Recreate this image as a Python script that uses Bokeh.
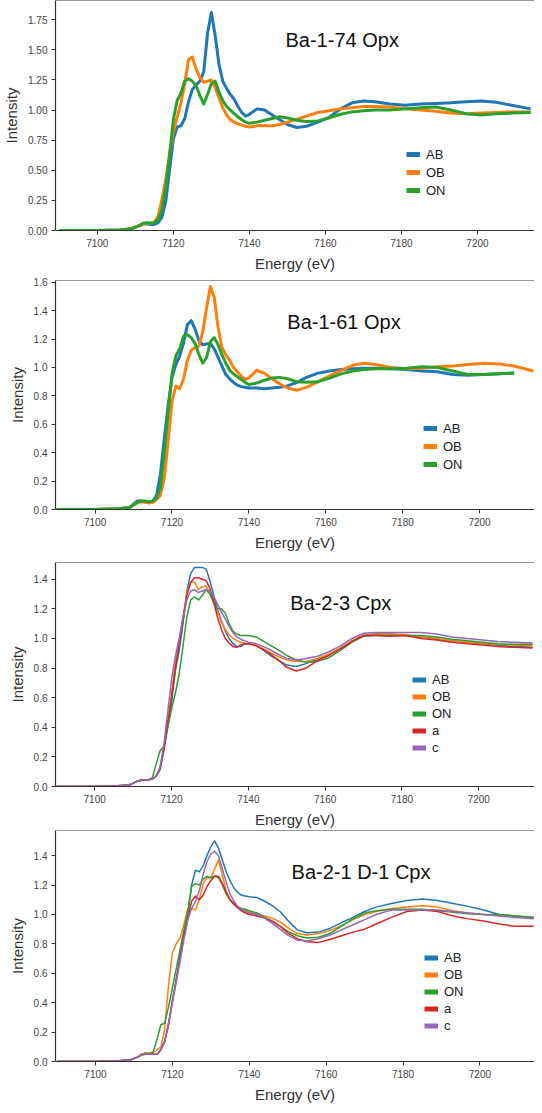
from bokeh.plotting import figure
from bokeh.models import Range1d, FixedTicker, NumeralTickFormatter, Legend, LegendItem, Label, Span
from bokeh.layouts import column
from bokeh.embed import file_html
from bokeh.resources import INLINE

nan = float("nan")

ENERGY = [7090, 7100, 7106, 7109, 7111,
          7112, 7113, 7114, 7115, 7116, 7117, 7118, 7119, 7120,
          7121, 7122, 7123, 7124, 7125, 7126, 7127, 7128, 7129, 7130,
          7131, 7132, 7133, 7134, 7135, 7136, 7137, 7138, 7139, 7140,
          7142, 7144, 7146, 7148, 7150,
          7152.5, 7155, 7158, 7161, 7164, 7167, 7170, 7173,
          7177, 7181, 7185, 7189, 7193, 7197, 7201, 7205, 7209, 7214]

X_TICKS = [7100, 7120, 7140, 7160, 7180, 7200]

# Panel 1: Ba-1-74 Opx
P1_AB = [0.0, 0.0, 0.005, 0.015, 0.04,
         0.055, 0.055, 0.05, 0.05, 0.065, 0.11, 0.24, 0.50, 0.76,
         0.86, 0.87, 0.93, 1.07, 1.17, 1.21, 1.24, 1.32, 1.64, 1.81,
         1.62, 1.38, 1.24, 1.18, 1.13, 1.09, 1.03, 0.98, 0.95, 0.965,
         1.01, 1.00, 0.96, 0.92, 0.88,
         0.855, 0.865, 0.90, 0.94, 1.01, 1.06, 1.075, 1.07,
         1.05, 1.04, 1.05, 1.055, 1.06, 1.07, 1.075, 1.065, 1.04, 1.01]
P1_OB = [0.0, 0.0, 0.005, 0.015, 0.04,
         0.055, 0.06, 0.06, 0.07, 0.12, 0.26, 0.42, 0.64, 0.82,
         0.94, 1.06, 1.22, 1.42, 1.44, 1.34, 1.27, 1.23, 1.24, 1.25,
         1.19, 1.10, 1.02, 0.96, 0.92, 0.90, 0.885, 0.875, 0.865, 0.86,
         0.87, 0.87, 0.87, 0.88, 0.90,
         0.925, 0.95, 0.98, 0.995, 1.01, 1.02, 1.03, 1.03,
         1.025, 1.01, 1.0, 0.99, 0.975, 0.97, 0.975, 0.98, 0.985, 0.985]
P1_ON = [0.0, 0.0, 0.005, 0.015, 0.04,
         0.06, 0.065, 0.06, 0.065, 0.09, 0.17, 0.37, 0.62, 0.92,
         1.08, 1.14, 1.24, 1.26, 1.24, 1.20, 1.12, 1.05, 1.13, 1.22,
         1.24, 1.15, 1.08, 1.03, 1.00, 0.97, 0.945, 0.92, 0.90, 0.89,
         0.90, 0.915, 0.93, 0.945, 0.935,
         0.915, 0.905, 0.91, 0.935, 0.965, 0.985, 0.995, 1.0,
         1.0, 1.01, 1.02, 1.025, 1.0, 0.97, 0.96, 0.97, 0.975, 0.98]

# Panel 2: Ba-1-61 Opx
P2_AB = [0.0, 0.0, 0.005, 0.015, 0.06,
         0.06, 0.055, 0.05, 0.055, 0.10, 0.25, 0.50, 0.73, 0.93,
         1.02, 1.08, 1.17, 1.30, 1.33, 1.27, 1.19, 1.16, 1.165, 1.17,
         1.13, 1.07, 1.01, 0.95, 0.92, 0.895, 0.875, 0.865, 0.86, 0.855,
         0.855, 0.85, 0.855, 0.86, 0.87,
         0.895, 0.93, 0.96, 0.975, 0.985, 0.99, 0.995, 0.995,
         0.99, 0.985, 0.975, 0.97, 0.95, 0.945, 0.95, 0.955, 0.96, nan]
P2_OB = [0.0, 0.0, 0.005, 0.015, 0.05,
         0.055, 0.05, 0.045, 0.05, 0.07, 0.10, 0.22, 0.48, 0.76,
         0.87, 0.85, 0.92, 1.05, 1.12, 1.14, 1.15, 1.25, 1.42, 1.57,
         1.49, 1.28, 1.14, 1.09, 1.05, 1.00, 0.97, 0.94, 0.915, 0.925,
         0.98, 0.96, 0.92, 0.885, 0.855,
         0.84, 0.86, 0.90, 0.94, 0.98, 1.015, 1.03, 1.02,
         1.0, 0.99, 0.995, 1.005, 1.01, 1.02, 1.03, 1.025, 1.01, 0.975]
P2_ON = [0.0, 0.0, 0.005, 0.015, 0.05,
         0.06, 0.06, 0.055, 0.06, 0.08, 0.15, 0.40, 0.68, 0.95,
         1.08, 1.13, 1.22, 1.23, 1.21, 1.17, 1.09, 1.03, 1.07, 1.18,
         1.21, 1.16, 1.09, 1.03, 0.98, 0.955, 0.935, 0.915, 0.895, 0.88,
         0.89, 0.91, 0.925, 0.93, 0.92,
         0.90, 0.895, 0.90, 0.925, 0.955, 0.975, 0.985, 0.99,
         0.99, 0.995, 1.005, 1.0, 0.975, 0.95, 0.95, 0.955, 0.96, nan]

# Panel 3: Ba-2-3 Cpx
P3_AB = [0.0, 0.0, 0.005, 0.01, 0.035,
         0.04, 0.045, 0.045, 0.05, 0.07, 0.11, 0.24, 0.40, 0.56,
         0.78, 0.92, 1.10, 1.32, 1.44, 1.48, 1.48, 1.48, 1.47, 1.39,
         1.29, 1.19, 1.12, 1.05, 1.00, 0.965, 0.945, 0.945, 0.965, 0.965,
         0.955, 0.92, 0.88, 0.85, 0.82,
         0.81, 0.83, 0.86, 0.89, 0.935, 0.98, 1.02, 1.03,
         1.03, 1.02, 1.01, 0.995, 0.985, 0.975, 0.965, 0.955, 0.945, 0.94]
P3_OB = [0.0, 0.0, 0.005, 0.01, 0.035,
         0.04, 0.045, 0.045, 0.05, 0.07, 0.12, 0.25, 0.44, 0.62,
         0.84, 0.98, 1.15, 1.31, 1.38, 1.38, 1.33, 1.35, 1.355, 1.31,
         1.24, 1.18, 1.11, 1.06, 1.025, 1.00, 0.985, 0.975, 0.97, 0.965,
         0.955, 0.93, 0.90, 0.875, 0.855,
         0.845, 0.845, 0.865, 0.895, 0.935, 0.985, 1.02, 1.03,
         1.03, 1.025, 1.01, 1.0, 0.985, 0.975, 0.965, 0.96, 0.955, 0.95]
P3_ON = [0.0, 0.0, 0.005, 0.01, 0.035,
         0.045, 0.045, 0.045, 0.06, 0.15, 0.24, 0.27, 0.40, 0.52,
         0.63, 0.76, 0.95, 1.15, 1.26, 1.28, 1.26, 1.29, 1.33, 1.30,
         1.24, 1.20, 1.20, 1.17, 1.10, 1.05, 1.03, 1.02, 1.02, 1.02,
         1.01, 0.98, 0.95, 0.92, 0.885,
         0.855, 0.84, 0.845, 0.87, 0.92, 0.975, 1.015, 1.02,
         1.02, 1.02, 1.02, 1.01, 0.995, 0.985, 0.975, 0.965, 0.96, 0.96]
P3_A = [0.0, 0.0, 0.005, 0.01, 0.035,
        0.04, 0.045, 0.045, 0.05, 0.07, 0.12, 0.25, 0.43, 0.60,
        0.80, 0.96, 1.13, 1.29, 1.38, 1.41, 1.41, 1.40, 1.39, 1.34,
        1.25, 1.14, 1.06, 1.00, 0.97, 0.945, 0.94, 0.955, 0.965, 0.965,
        0.95, 0.925, 0.89, 0.85, 0.805,
        0.78, 0.80, 0.85, 0.885, 0.93, 0.98, 1.02, 1.02,
        1.015, 1.02, 1.0, 0.99, 0.975, 0.965, 0.955, 0.945, 0.94, 0.935]
P3_C = [0.0, 0.0, 0.005, 0.01, 0.035,
        0.04, 0.045, 0.045, 0.05, 0.07, 0.13, 0.28, 0.50, 0.72,
        0.88, 1.00, 1.14, 1.26, 1.32, 1.33, 1.31, 1.32, 1.33, 1.32,
        1.28, 1.23, 1.18, 1.13, 1.08, 1.04, 1.01, 0.995, 0.985, 0.975,
        0.965, 0.945, 0.92, 0.89, 0.865,
        0.855, 0.865, 0.88, 0.91, 0.95, 1.0, 1.035, 1.04,
        1.04, 1.04, 1.04, 1.03, 1.01, 1.0, 0.99, 0.98, 0.975, 0.97]

# Panel 4: Ba-2-1 D-1 Cpx
P4_AB = [0.0, 0.0, 0.005, 0.01, 0.03,
         0.045, 0.05, 0.05, 0.05, 0.05, 0.08, 0.13, 0.26, 0.41,
         0.56, 0.71, 0.87, 1.00, 1.20, 1.30, 1.29, 1.33, 1.40, 1.46,
         1.50, 1.45, 1.37, 1.29, 1.23, 1.18, 1.15, 1.13, 1.125, 1.12,
         1.115, 1.09, 1.06, 1.02, 0.96,
         0.895, 0.875, 0.88, 0.905, 0.945, 0.98, 1.02, 1.05,
         1.075, 1.095, 1.105, 1.095, 1.075, 1.055, 1.03, 1.0, 0.99, 0.98]
P4_OB = [0.0, 0.0, 0.005, 0.01, 0.03,
         0.05, 0.06, 0.055, 0.06, 0.08, 0.10, 0.22, 0.52, 0.74,
         0.80, 0.84, 0.93, 1.04, 1.04, 1.03, 1.10, 1.21, 1.25, 1.25,
         1.31, 1.37, 1.27, 1.16, 1.10, 1.07, 1.05, 1.035, 1.025, 1.015,
         1.0, 0.99, 0.975, 0.95, 0.91,
         0.87, 0.86, 0.87, 0.89, 0.925, 0.965, 1.0, 1.02,
         1.04, 1.05, 1.06, 1.05, 1.025, 1.01, 1.0, 0.995, 0.99, 0.98]
P4_ON = [0.0, 0.0, 0.005, 0.01, 0.03,
         0.05, 0.055, 0.055, 0.065, 0.15, 0.25, 0.26, 0.37, 0.50,
         0.63, 0.76, 0.89, 1.02, 1.19, 1.21, 1.20, 1.24, 1.26, 1.25,
         1.26, 1.25, 1.20, 1.14, 1.10, 1.075, 1.055, 1.04, 1.035, 1.025,
         1.01, 0.98, 0.955, 0.92, 0.885,
         0.855, 0.84, 0.845, 0.87, 0.92, 0.97, 1.01, 1.025,
         1.035, 1.035, 1.035, 1.025, 1.015, 1.005, 1.0, 1.0, 0.99, 0.98]
P4_A = [0.0, 0.0, 0.005, 0.01, 0.03,
        0.045, 0.05, 0.05, 0.05, 0.05, 0.08, 0.14, 0.25, 0.41,
        0.55, 0.70, 0.85, 0.97, 1.09, 1.125, 1.10, 1.13, 1.19, 1.23,
        1.26, 1.26, 1.21, 1.15, 1.10, 1.07, 1.045, 1.025, 1.01, 1.0,
        0.99, 0.975, 0.955, 0.92, 0.875,
        0.835, 0.815, 0.81, 0.83, 0.855, 0.88, 0.90, 0.935,
        0.98, 1.02, 1.03, 1.02, 0.99, 0.97, 0.955, 0.935, 0.92, 0.92]
P4_C = [0.0, 0.0, 0.005, 0.01, 0.03,
        0.045, 0.05, 0.05, 0.05, 0.05, 0.08, 0.14, 0.25, 0.40,
        0.54, 0.68, 0.83, 0.96, 1.04, 1.09, 1.16, 1.27, 1.36, 1.41,
        1.43, 1.40, 1.31, 1.22, 1.14, 1.09, 1.055, 1.035, 1.02, 1.01,
        1.0, 0.975, 0.94, 0.90, 0.86,
        0.825, 0.82, 0.835, 0.86, 0.895, 0.93, 0.965, 1.0,
        1.03, 1.03, 1.03, 1.03, 1.02, 1.01, 1.0, 0.99, 0.98, 0.97]

TITLES = ["Ba-1-74 Opx", "Ba-1-61 Opx", "Ba-2-3 Cpx", "Ba-2-1 D-1 Cpx"]
LABELS3 = ["AB", "OB", "ON"]
LABELS5 = ["AB", "OB", "ON", "a", "c"]
COLORS = ["#1f77b4", "#ff7f0e", "#2ca02c", "#d62728", "#9467bd"]

Y_TICKS_1 = [0.0, 0.25, 0.5, 0.75, 1.0, 1.25, 1.5, 1.75]
Y_TICKS_2 = [0.0, 0.2, 0.4, 0.6, 0.8, 1.0, 1.2, 1.4, 1.6]
Y_TICKS_34 = [0.0, 0.2, 0.4, 0.6, 0.8, 1.0, 1.2, 1.4]

FONT = "Liberation Sans"

panels = [
    dict(title=TITLES[0], series=[P1_AB, P1_OB, P1_ON], labels=LABELS3, yticks=Y_TICKS_1, yfmt="0.00",
         ymax=1.91, xr=(7089.0, 7215.0), ml=49, mt=0, fh=231, mb=43, lw=3.0,
         tpos=(7149.5, 1.58), lloc=(351, 31), lh=18),
    dict(title=TITLES[1], series=[P2_AB, P2_OB, P2_ON], labels=LABELS3, yticks=Y_TICKS_2, yfmt="0.0",
         ymax=1.612, xr=(7089.7, 7214.3), ml=42, mt=6, fh=229, mb=53, lw=3.0,
         tpos=(7150.0, 1.32), lloc=(368, 36), lh=18),
    dict(title=TITLES[2], series=[P3_AB, P3_OB, P3_ON, P3_A, P3_C], labels=LABELS5, yticks=Y_TICKS_34, yfmt="0.0",
         ymax=1.513, xr=(7089.8, 7214.5), ml=44, mt=0, fh=224, mb=44, lw=1.5,
         tpos=(7150.9, 1.24), lloc=(357, 30), lh=17),
    dict(title=TITLES[3], series=[P4_AB, P4_OB, P4_ON, P4_A, P4_C], labels=LABELS5, yticks=Y_TICKS_34, yfmt="0.0",
         ymax=1.571, xr=(7089.6, 7214.2), ml=43, mt=0, fh=233, mb=42, lw=1.5,
         tpos=(7151.0, 1.29), lloc=(369, 27), lh=17),
]

figs = []
for cfg in panels:
    p = figure(width=534, height=cfg["mt"] + cfg["fh"] + cfg["mb"],
               x_range=Range1d(*cfg["xr"]), y_range=Range1d(0.0, cfg["ymax"]),
               output_backend="svg", toolbar_location=None,
               min_border_left=cfg["ml"], min_border_right=0,
               min_border_top=cfg["mt"], min_border_bottom=cfg["mb"])
    p.outline_line_color = None
    p.grid.visible = False
    p.background_fill_color = "white"
    p.border_fill_color = "white"

    for ys, col in zip(cfg["series"], COLORS):
        p.line(ENERGY, ys, line_color=col, line_width=cfg["lw"], line_join="round")

    items = []
    for lab, col in zip(cfg["labels"], COLORS):
        dummy = p.line([ENERGY[0]], [nan], line_color=col, line_width=5)
        items.append(LegendItem(label=lab, renderers=[dummy]))

    legend = Legend(items=items, location=cfg["lloc"], orientation="vertical",
                    border_line_color=None, background_fill_alpha=0.0,
                    padding=0, margin=0, spacing=0,
                    glyph_width=14, glyph_height=cfg["lh"], label_height=cfg["lh"],
                    label_standoff=6, label_text_font=FONT, label_text_font_size="13px",
                    label_text_color="#222222")
    p.add_layout(legend, "center")

    p.add_layout(Span(location=cfg["ymax"], dimension="width", line_color="#333333", line_width=1.2))

    p.add_layout(Label(x=cfg["tpos"][0], y=cfg["tpos"][1], text=cfg["title"],
                       text_font=FONT, text_font_size="20px", text_color="#111111",
                       text_baseline="alphabetic", text_align="left"))

    p.xaxis.ticker = FixedTicker(ticks=X_TICKS)
    p.yaxis.ticker = FixedTicker(ticks=cfg["yticks"])
    p.yaxis.formatter = NumeralTickFormatter(format=cfg["yfmt"])
    p.xaxis.axis_label = "Energy (eV)"
    p.yaxis.axis_label = "Intensity"
    for ax in (p.xaxis[0], p.yaxis[0]):
        ax.axis_line_color = "#333333"
        ax.axis_line_width = 1.2
        ax.major_tick_line_color = "#333333"
        ax.major_tick_out = 4
        ax.major_tick_in = 0
        ax.minor_tick_line_color = None
        ax.major_label_text_font = FONT
        ax.major_label_text_font_size = "10px"
        ax.major_label_text_color = "#444444"
        ax.major_label_standoff = 4
        ax.axis_label_text_font = FONT
        ax.axis_label_text_font_size = "15px"
        ax.axis_label_text_font_style = "normal"
        ax.axis_label_text_color = "#333333"
    p.xaxis.axis_label_standoff = 5
    p.yaxis.axis_label_standoff = 5
    figs.append(p)

layout = column(*figs, spacing=0)
open("out.html", "w").write(file_html(layout, INLINE))
